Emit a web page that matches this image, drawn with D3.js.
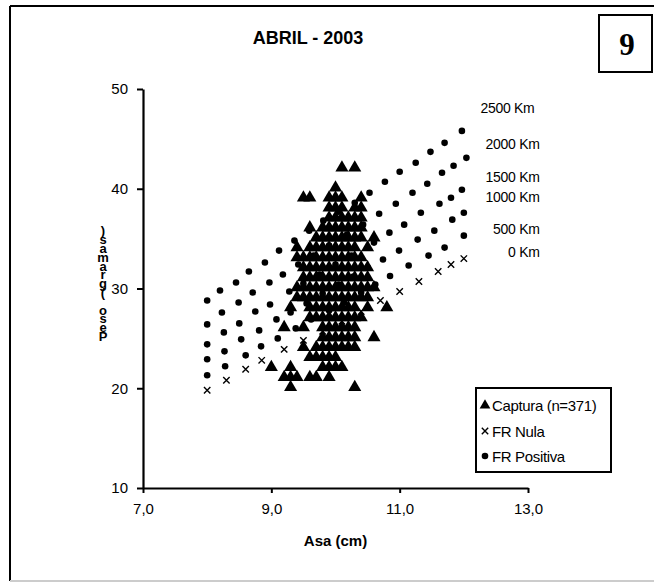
<!DOCTYPE html>
<html>
<head>
<meta charset="utf-8">
<style>
  body { margin: 0; background: #fff; }
  svg { display: block; font-family: "Liberation Sans", Arial, sans-serif; }
</style>
</head>
<body>
<div id="chart"></div>
<script src="https://d3js.org/d3.v7.min.js"></script>
<script>
// ---- data ----
var xTicks = [7, 9, 11, 13];
var yTicks = [10, 20, 30, 40, 50];

// FR Nula (0 Km)
var nulaX = [8.0, 8.3, 8.6, 8.85, 9.2, 9.5, 9.8, 10.1, 10.4, 10.7, 11.0, 11.3, 11.6, 11.8, 12.0];
var nulaY = [19.8, 20.8, 21.9, 22.8, 23.9, 24.8, 25.7, 26.7, 27.7, 28.8, 29.7, 30.7, 31.7, 32.4, 33.0];

// FR Positiva, one line per distance
var pos500X  = [8.0, 8.28, 8.6, 8.84, 9.1, 9.38, 9.62, 9.9, 10.13, 10.4, 10.62, 10.85, 11.14, 11.45, 11.7, 12.0];
var pos500Y  = [21.3, 22.2, 23.3, 24.2, 25.0, 26.0, 26.9, 27.8, 28.6, 29.6, 30.4, 31.25, 32.3, 33.3, 34.1, 35.3];
var pos1000X = [8.0, 8.27, 8.53, 8.81, 9.08, 9.3, 9.55, 9.8, 10.05, 10.28, 10.5, 10.74, 10.99, 11.28, 11.54, 11.82, 12.0];
var pos1000Y = [22.9, 23.7, 24.9, 25.8, 26.9, 27.6, 28.5, 29.5, 30.4, 31.2, 32.1, 32.9, 33.8, 34.9, 35.8, 36.9, 37.6];
var pos1500X = [8.0, 8.26, 8.5, 8.75, 8.98, 9.28, 9.5, 9.75, 10.0, 10.25, 10.6, 10.84, 11.07, 11.33, 11.62, 11.8, 11.97];
var pos1500Y = [24.4, 25.6, 26.5, 27.7, 28.4, 29.7, 30.5, 31.4, 32.4, 33.3, 34.6, 35.6, 36.4, 37.6, 38.5, 39.1, 39.9];
var pos2000X = [8.0, 8.23, 8.49, 8.71, 8.97, 9.18, 9.42, 9.66, 9.9, 10.18, 10.43, 10.68, 10.94, 11.2, 11.43, 11.66, 11.84, 12.04];
var pos2000Y = [26.4, 27.6, 28.6, 29.6, 30.6, 31.4, 32.4, 33.3, 34.3, 35.4, 36.4, 37.5, 38.5, 39.6, 40.5, 41.6, 42.3, 43.1];
var pos2500X = [8.0, 8.2, 8.45, 8.65, 8.9, 9.12, 9.36, 9.59, 9.81, 10.05, 10.3, 10.53, 10.77, 11.0, 11.25, 11.48, 11.7, 11.97];
var pos2500Y = [28.8, 29.8, 30.6, 31.7, 32.6, 33.8, 34.8, 35.8, 36.8, 37.7, 38.6, 39.6, 40.7, 41.7, 42.6, 43.7, 44.6, 45.8];

// line labels: text, right end x and baseline y (data units)
var kmNames = ["2500 Km", "2000 Km", "1500 Km", "1000 Km", "500 Km", "0 Km"];
var kmLabX  = [13.1, 13.18, 13.18, 13.18, 13.18, 13.18];
var kmLabY  = [47.6, 44.0, 40.7, 38.7, 35.5, 33.2];

// Captura: weight (g) -> wing lengths (cm) seen at that weight
var capPeso = [42, 40, 39, 38, 37, 36, 35, 34, 33, 32, 31, 30, 29, 28, 27, 26, 25, 24, 23, 22, 21, 20];
var capAsa = [
  [10.1, 10.3],
  [10.0],
  [9.5, 9.6, 9.9, 10.0, 10.1, 10.4],
  [9.9, 10.0, 10.1, 10.3, 10.4],
  [9.9, 10.0, 10.1, 10.2, 10.3, 10.4],
  [9.6, 9.8, 9.9, 10.0, 10.1, 10.2, 10.3, 10.4],
  [9.7, 9.8, 9.9, 10.0, 10.1, 10.2, 10.3, 10.4, 10.6],
  [9.4, 9.6, 9.7, 9.8, 9.9, 10.0, 10.1, 10.2, 10.3, 10.5],
  [9.4, 9.5, 9.6, 9.7, 9.8, 9.9, 10.0, 10.1, 10.2, 10.3, 10.4],
  [9.5, 9.6, 9.7, 9.8, 9.9, 10.0, 10.1, 10.2, 10.3, 10.4, 10.5],
  [9.5, 9.6, 9.7, 9.8, 9.9, 10.0, 10.1, 10.2, 10.3, 10.4, 10.5],
  [9.4, 9.5, 9.6, 9.7, 9.8, 9.9, 10.0, 10.1, 10.2, 10.3, 10.4, 10.5, 10.6],
  [9.4, 9.5, 9.6, 9.7, 9.8, 9.9, 10.0, 10.1, 10.2, 10.3, 10.4, 10.5],
  [9.3, 9.6, 9.7, 9.8, 9.9, 10.0, 10.1, 10.2, 10.3, 10.5, 10.8],
  [9.6, 9.7, 9.8, 9.9, 10.0, 10.1, 10.2, 10.3, 10.4],
  [9.2, 9.5, 9.8, 9.9, 10.0, 10.1, 10.2, 10.3],
  [9.8, 9.9, 10.0, 10.1, 10.2, 10.3, 10.6],
  [9.5, 9.7, 9.8, 9.9, 10.0, 10.1, 10.2, 10.3],
  [9.6, 9.7, 9.8, 9.9, 10.0],
  [9.0, 9.3, 9.8, 9.9, 10.0, 10.1],
  [9.2, 9.3, 9.4, 9.6, 9.7, 9.9],
  [9.3, 10.3]
];

var legendNames = ["Captura (n=371)", "FR Nula", "FR Positiva"];
var yLabel = "Peso (gramas)";

// ---- drawing ----
var W = 654, H = 584;
var svg = d3.select("#chart").append("svg").attr("width", W).attr("height", H);

// outer frame
svg.append("line").attr("x1", 10).attr("y1", 6).attr("x2", W).attr("y2", 6)
   .attr("stroke", "#000").attr("stroke-width", 2);
svg.append("line").attr("x1", 10).attr("y1", 6).attr("x2", 10).attr("y2", 581)
   .attr("stroke", "#000").attr("stroke-width", 2);
svg.append("line").attr("x1", 10).attr("y1", 581).attr("x2", W).attr("y2", 581)
   .attr("stroke", "#ccc").attr("stroke-width", 2);

var x = d3.scaleLinear().domain([7, 13]).range([143, 528]);
var y = d3.scaleLinear().domain([10, 50]).range([488, 89]);

// axes
var fmt = function (d) { return d3.format(".1f")(d).replace(".", ","); };
var gx = svg.append("g").attr("transform", "translate(0," + y(10) + ")")
    .call(d3.axisBottom(x).tickValues(xTicks).tickFormat(fmt).tickSize(5).tickPadding(10).tickSizeOuter(0));
var gy = svg.append("g").attr("transform", "translate(" + x(7) + ",0)")
    .call(d3.axisLeft(y).tickValues(yTicks).tickSize(6).tickPadding(9).tickSizeOuter(0));
[gx, gy].forEach(function (g) {
  g.select(".domain").attr("stroke-width", 2.2);
  g.selectAll(".tick line").attr("stroke-width", 2);
  g.selectAll("text").attr("font-size", 15).attr("font-family", "Liberation Sans, Arial").attr("fill", "#000");
});

// title and axis titles
svg.append("text").attr("x", 308).attr("y", 44).attr("text-anchor", "middle")
   .attr("font-weight", "bold").attr("font-size", 18).text("ABRIL - 2003");
svg.append("text").attr("x", (x(7) + x(13)) / 2).attr("y", 546).attr("text-anchor", "middle")
   .attr("font-weight", "bold").attr("font-size", 15).text("Asa (cm)");

// y label: letters stacked, reading upward, one text element
var yl = svg.append("text").attr("font-weight", "bold").attr("font-size", 13)
   .attr("text-anchor", "middle");
yLabel.split("").forEach(function (ch, i) {
  yl.append("tspan").attr("x", 103).attr("y", 341 - i * 8.8).text(ch);
});

// box "9"
svg.append("rect").attr("x", 599).attr("y", 15).attr("width", 53).attr("height", 57)
   .attr("fill", "#fff").attr("stroke", "#000").attr("stroke-width", 2);
svg.append("text").attr("x", 627).attr("y", 55).attr("text-anchor", "middle")
   .attr("font-family", "Liberation Serif, Times New Roman, serif")
   .attr("font-weight", "bold").attr("font-size", 31).text("9");

// markers
var tri = d3.symbol().type(d3.symbolTriangle).size(74);
var dot = function (g, cx, cy) {
  g.append("circle").attr("cx", cx).attr("cy", cy).attr("r", 3.3).attr("fill", "#000");
};
var cross = function (g, cx, cy) {
  var s = 3.2;
  g.append("path").attr("d", "M" + (cx - s) + "," + (cy - s) + "L" + (cx + s) + "," + (cy + s) +
      "M" + (cx - s) + "," + (cy + s) + "L" + (cx + s) + "," + (cy - s))
   .attr("stroke", "#000").attr("stroke-width", 1.4);
};

var plot = svg.append("g");
var posX = [pos500X, pos1000X, pos1500X, pos2000X, pos2500X];
var posY = [pos500Y, pos1000Y, pos1500Y, pos2000Y, pos2500Y];
posX.forEach(function (xs, k) {
  xs.forEach(function (v, i) { dot(plot, x(v), y(posY[k][i])); });
});
nulaX.forEach(function (v, i) { cross(plot, x(v), y(nulaY[i])); });

capPeso.forEach(function (p, r) {
  capAsa[r].forEach(function (a) {
    plot.append("path").attr("d", tri)
      .attr("transform", "translate(" + x(a) + "," + (y(p) - 1) + ")")
      .attr("fill", "#000");
  });
});

// distance labels
kmNames.forEach(function (t, i) {
  svg.append("text").attr("x", x(kmLabX[i])).attr("y", y(kmLabY[i]))
    .attr("text-anchor", "end").attr("font-size", 14).attr("letter-spacing", -0.3).text(t);
});

// legend
var lg = svg.append("g").attr("transform", "translate(476,388)");
lg.append("rect").attr("width", 135).attr("height", 84)
  .attr("fill", "#fff").attr("stroke", "#000").attr("stroke-width", 2);
var rowY = [17, 43, 68];
legendNames.forEach(function (t, i) {
  lg.append("text").attr("x", 16).attr("y", rowY[i] + 5.5)
    .attr("font-size", 15).attr("letter-spacing", -0.35).text(t);
});
lg.append("path").attr("d", d3.symbol().type(d3.symbolTriangle).size(50))
  .attr("transform", "translate(9," + (rowY[0] + 0.5) + ")");
cross(lg, 9, rowY[1]);
dot(lg, 9, rowY[2]);
</script>
</body>
</html>
